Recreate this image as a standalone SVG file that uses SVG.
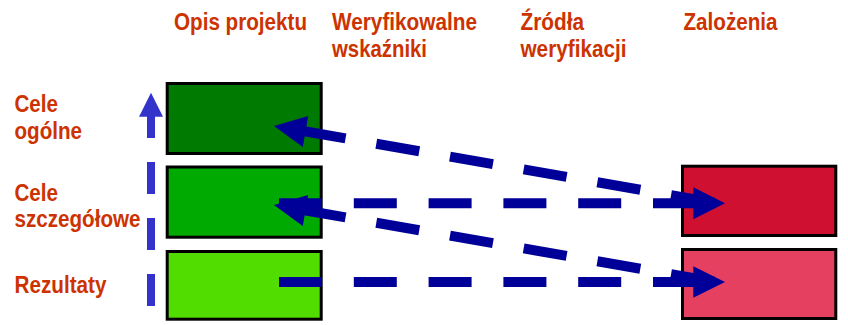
<svg xmlns="http://www.w3.org/2000/svg" width="848" height="325" viewBox="0 0 848 325">
<style>
text{font-family:"Liberation Sans",Arial,sans-serif;font-weight:bold;font-size:24.5px;fill:#cc3300}
.box{stroke:#000;stroke-width:3}
.dash{fill:none;stroke:#000099;stroke-width:10}
.head{fill:#000099}
</style>
<rect width="848" height="325" fill="#fff"/>
<g id="headers">
<text x="174" y="30" textLength="133" lengthAdjust="spacingAndGlyphs">Opis projektu</text>
<text x="332" y="30" textLength="145" lengthAdjust="spacingAndGlyphs">Weryfikowalne</text>
<text x="332" y="56.7" textLength="95" lengthAdjust="spacingAndGlyphs">wskaźniki</text>
<text x="520.5" y="30" textLength="63.5" lengthAdjust="spacingAndGlyphs">Źródła</text>
<text x="520.5" y="56.7" textLength="106" lengthAdjust="spacingAndGlyphs">weryfikacji</text>
<text x="683.5" y="30" textLength="94" lengthAdjust="spacingAndGlyphs">Zalożenia</text>
</g>
<g id="row-labels">
<text x="14.5" y="112.3" textLength="43.5" lengthAdjust="spacingAndGlyphs">Cele</text>
<text x="14.5" y="138.7" textLength="67.5" lengthAdjust="spacingAndGlyphs">ogólne</text>
<text x="14.5" y="200.7" textLength="43.5" lengthAdjust="spacingAndGlyphs">Cele</text>
<text x="14.5" y="227.3" textLength="126" lengthAdjust="spacingAndGlyphs">szczegółowe</text>
<text x="14.5" y="293.3" textLength="92" lengthAdjust="spacingAndGlyphs">Rezultaty</text>
</g>
<g id="cele-ogolne"><rect class="box" x="167.2" y="83.5" width="154" height="70" fill="#007a00"/></g>
<g id="cele-szczegolowe"><rect class="box" x="167.2" y="167" width="154" height="70.2" fill="#00aa00"/></g>
<g id="rezultaty"><rect class="box" x="167.2" y="251.5" width="154" height="67.7" fill="#52dd00"/></g>
<g id="zalozenia-1"><rect class="box" x="682.5" y="166.2" width="153.3" height="69.3" fill="#d01030"/></g>
<g id="zalozenia-2"><rect class="box" x="682.5" y="249.5" width="153.3" height="69" fill="#e64060"/></g>
<g id="connectors">
<path d="M151 306V106" fill="none" stroke="#3333cc" stroke-width="8" stroke-dasharray="32 24"/>
<polygon points="151,92.7 163,116.7 139,116.7" fill="#3333cc"/>
<path class="dash" d="M279 203.2H696" stroke-dasharray="43 31.8"/>
<polygon class="head" points="725,203.2 693.3,187.3 693.3,219.3"/>
<path class="dash" d="M279 282H696" stroke-dasharray="43 31.8"/>
<polygon class="head" points="725,282 693.3,266.3 693.3,297.7"/>
<path class="dash" d="M714 202.6L303 131" stroke-dasharray="43.6 31.2"/>
<polygon class="head" points="274,126 308.2,116 302.8,147"/>
<path class="dash" d="M714 281.6L303 210" stroke-dasharray="43.6 31.2"/>
<polygon class="head" points="274,205 308.2,195 302.8,226"/>
</g>
</svg>
